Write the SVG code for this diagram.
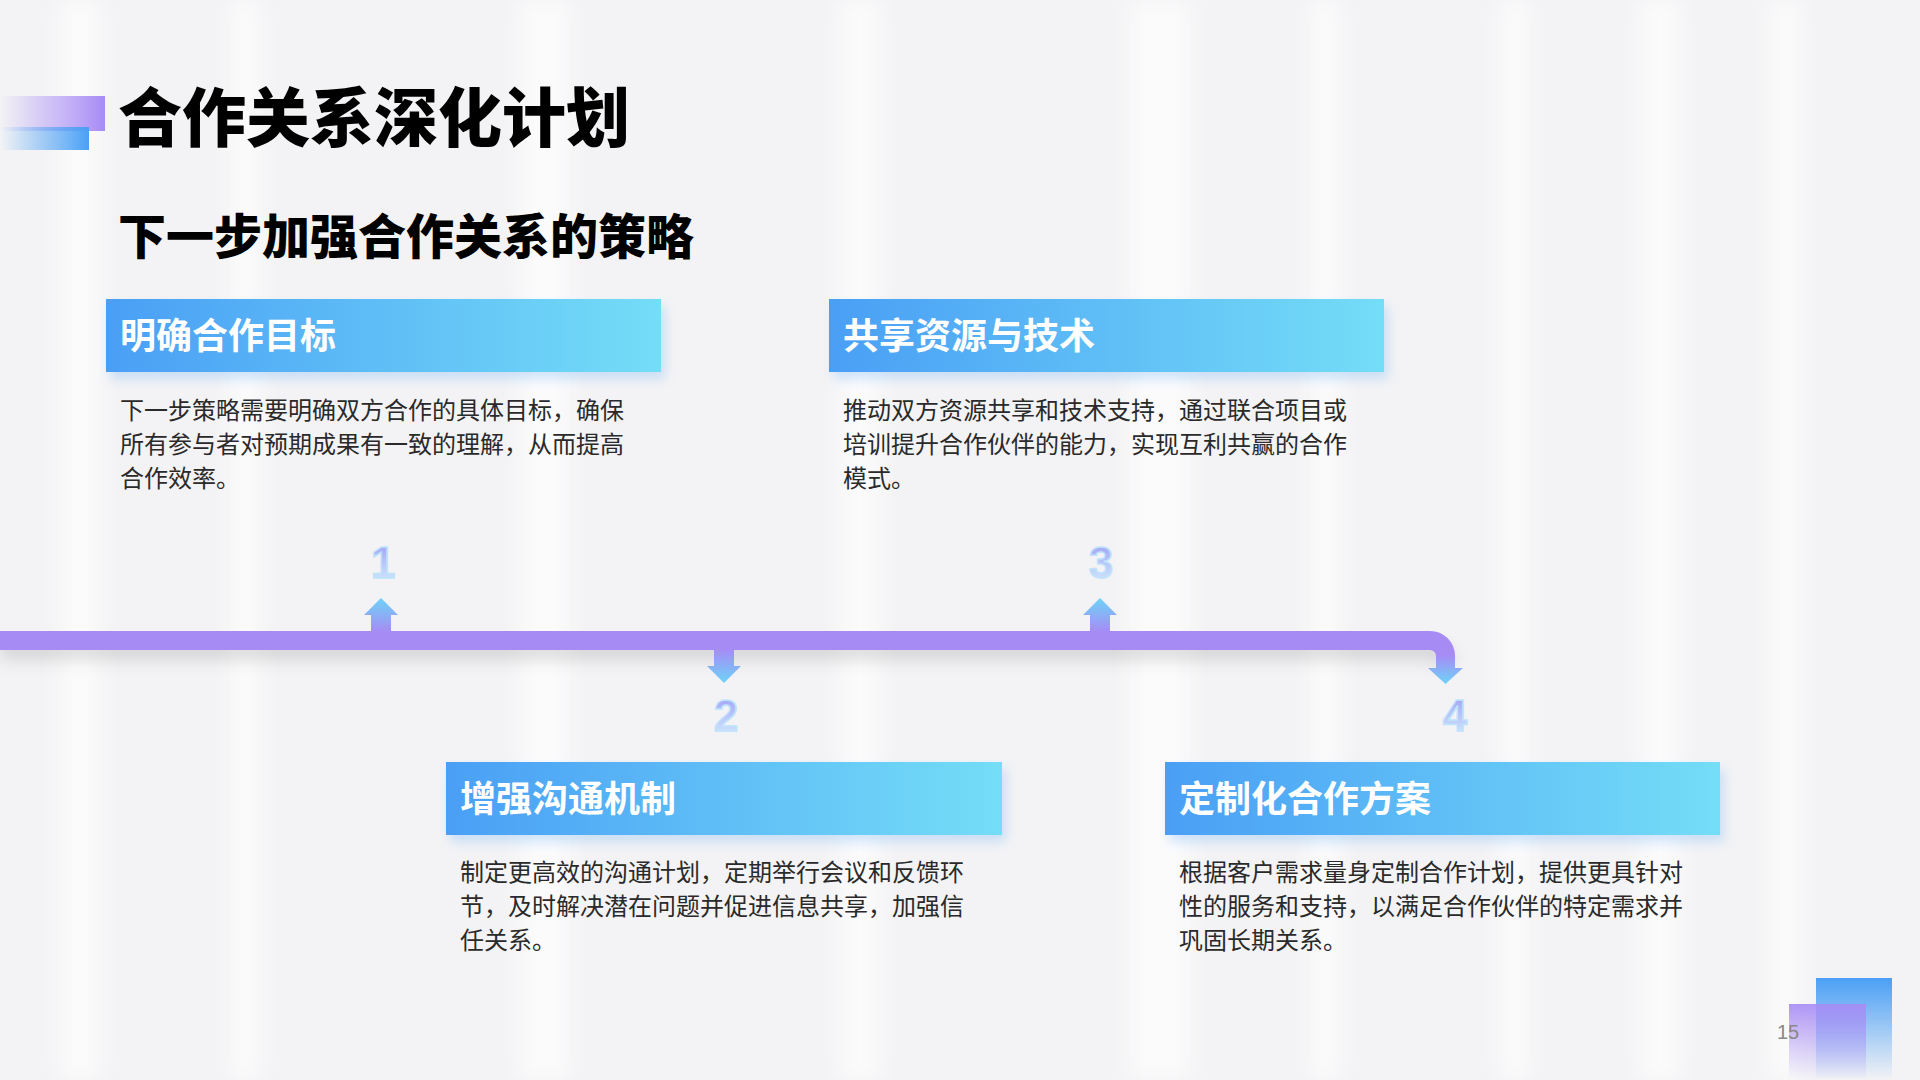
<svg xmlns="http://www.w3.org/2000/svg" width="1920" height="1080" viewBox="0 0 1920 1080">
<defs>
<style>
.h{font-family:"Noto Sans CJK SC","Noto Sans",sans-serif;font-weight:700;font-size:36px;fill:#fff}
.b{font-family:"Noto Sans CJK SC","Noto Sans",sans-serif;font-size:24px;fill:#2a2a2a}
.n{font-family:"Liberation Sans",Arial,sans-serif;font-weight:700;font-size:44px;fill:url(#ng);stroke:#bfe3fb;stroke-width:1.5;text-anchor:middle}
.t{font-family:"Noto Sans CJK SC","Noto Sans",sans-serif;font-weight:900;fill:#000}
</style>
<linearGradient id="hg" x1="0" x2="1"><stop offset="0" stop-color="#4a9ff5"/><stop offset="1" stop-color="#74ddf7"/></linearGradient>
<linearGradient id="ng" x1="0" y1="0" x2="0" y2="1"><stop offset="0" stop-color="#9a9af5"/><stop offset="1" stop-color="#d6effd"/></linearGradient>
<linearGradient id="au" x1="0" y1="1" x2="0" y2="0"><stop offset="0" stop-color="#a78bf5"/><stop offset="1" stop-color="#6dd3f7"/></linearGradient>
<linearGradient id="ad" x1="0" y1="0" x2="0" y2="1"><stop offset="0" stop-color="#a78bf5"/><stop offset="1" stop-color="#6dd3f7"/></linearGradient>
<linearGradient id="d1" x1="0" x2="1"><stop offset="0" stop-color="#a78bf5" stop-opacity="0"/><stop offset="1" stop-color="#a78bf5"/></linearGradient>
<linearGradient id="d2" x1="0" x2="1"><stop offset="0" stop-color="#4aa0f5" stop-opacity="0"/><stop offset="1" stop-color="#4aa0f5"/></linearGradient>
<linearGradient id="rb" x1="0" y1="0" x2="0" y2="1"><stop offset="0" stop-color="#4a9ff5"/><stop offset="1" stop-color="#4a9ff5" stop-opacity="0"/></linearGradient>
<linearGradient id="rp" x1="0" y1="0" x2="0" y2="1"><stop offset="0" stop-color="#a78bf5" stop-opacity="0.9"/><stop offset="1" stop-color="#a78bf5" stop-opacity="0"/></linearGradient>
<filter id="sh" x="-10%" y="-100%" width="120%" height="300%"><feGaussianBlur stdDeviation="8"/></filter>
<filter id="cs" x="-10%" y="-30%" width="120%" height="160%"><feGaussianBlur stdDeviation="6"/></filter>
<filter id="bl" x="-50%" y="0" width="200%" height="100%"><feGaussianBlur stdDeviation="10"/></filter>
</defs>
<rect width="1920" height="1080" fill="#f3f3f5"/>
<g fill="#fbfbfc" filter="url(#bl)">
<rect x="60" y="0" width="40" height="1080"/><rect x="230" y="0" width="30" height="1080"/><rect x="520" y="0" width="50" height="1080"/>
<rect x="840" y="0" width="40" height="1080"/><rect x="1130" y="0" width="60" height="1080"/><rect x="1310" y="0" width="30" height="1080"/>
<rect x="1500" y="0" width="30" height="1080"/><rect x="1640" y="0" width="40" height="1080"/><rect x="1770" y="0" width="30" height="1080"/>
</g>
<g id="title">
<rect x="0" y="96" width="105" height="35" fill="url(#d1)"/>
<rect x="0" y="127" width="89" height="23" fill="url(#d2)"/>
<text class="t" x="118" y="141" font-size="64">合作关系深化计划</text>
<text class="t" x="118" y="254" font-size="48" font-weight="700">下一步加强合作关系的策略</text>
</g>
<g id="connectors">
<path d="M0 650 H1430 a14 14 0 0 1 14 14" fill="none" stroke="#000" stroke-opacity="0.12" stroke-width="20" filter="url(#sh)"/>
<path d="M0 640.5 H1430 a15.5 15.5 0 0 1 15.5 15.5 V670" fill="none" stroke="#a78bf5" stroke-width="19"/>
<path d="M371 632 V615 H364 L381 598 L398 615 H391 V632 Z" fill="url(#au)"/>
<path d="M1090 632 V615 H1083 L1100 598 L1117 615 H1110 V632 Z" fill="url(#au)"/>
<path d="M714 649 V666 H707 L724 683 L741 666 H734 V649 Z" fill="url(#ad)"/>
<path d="M1436 655 V668 H1428 L1445.5 684 L1463 668 H1455 V655 Z" fill="url(#ad)"/>
<text class="n" x="383" y="578">1</text>
<text class="n" x="726" y="731">2</text>
<text class="n" x="1101" y="578">3</text>
<text class="n" x="1455" y="731">4</text>
</g>
<g id="card1">
<rect x="110" y="306" width="555" height="73" fill="#4a9ff5" opacity="0.25" filter="url(#cs)"/>
<rect x="106" y="299" width="555" height="73" fill="url(#hg)"/>
<text class="h" x="120" y="349">明确合作目标</text>
<text class="b"><tspan x="120" y="419">下一步策略需要明确双方合作的具体目标，确保</tspan><tspan x="120" y="453">所有参与者对预期成果有一致的理解，从而提高</tspan><tspan x="120" y="487">合作效率。</tspan></text>
</g>
<g id="card2">
<rect x="833" y="306" width="555" height="73" fill="#4a9ff5" opacity="0.25" filter="url(#cs)"/>
<rect x="829" y="299" width="555" height="73" fill="url(#hg)"/>
<text class="h" x="843" y="349">共享资源与技术</text>
<text class="b"><tspan x="843" y="419">推动双方资源共享和技术支持，通过联合项目或</tspan><tspan x="843" y="453">培训提升合作伙伴的能力，实现互利共赢的合作</tspan><tspan x="843" y="487">模式。</tspan></text>
</g>
<g id="card3">
<rect x="450" y="769" width="556" height="73" fill="#4a9ff5" opacity="0.25" filter="url(#cs)"/>
<rect x="446" y="762" width="556" height="73" fill="url(#hg)"/>
<text class="h" x="460" y="812">增强沟通机制</text>
<text class="b"><tspan x="460" y="881">制定更高效的沟通计划，定期举行会议和反馈环</tspan><tspan x="460" y="915">节，及时解决潜在问题并促进信息共享，加强信</tspan><tspan x="460" y="949">任关系。</tspan></text>
</g>
<g id="card4">
<rect x="1169" y="769" width="555" height="73" fill="#4a9ff5" opacity="0.25" filter="url(#cs)"/>
<rect x="1165" y="762" width="555" height="73" fill="url(#hg)"/>
<text class="h" x="1179" y="812">定制化合作方案</text>
<text class="b"><tspan x="1179" y="881">根据客户需求量身定制合作计划，提供更具针对</tspan><tspan x="1179" y="915">性的服务和支持，以满足合作伙伴的特定需求并</tspan><tspan x="1179" y="949">巩固长期关系。</tspan></text>
</g>
<g id="page">
<rect x="1816" y="978" width="76" height="102" fill="url(#rb)"/>
<rect x="1789" y="1004" width="77" height="76" fill="url(#rp)"/>
<text x="1777" y="1039" font-family="Liberation Sans,Arial,sans-serif" font-size="20" fill="#888">15</text>
</g>
</svg>
